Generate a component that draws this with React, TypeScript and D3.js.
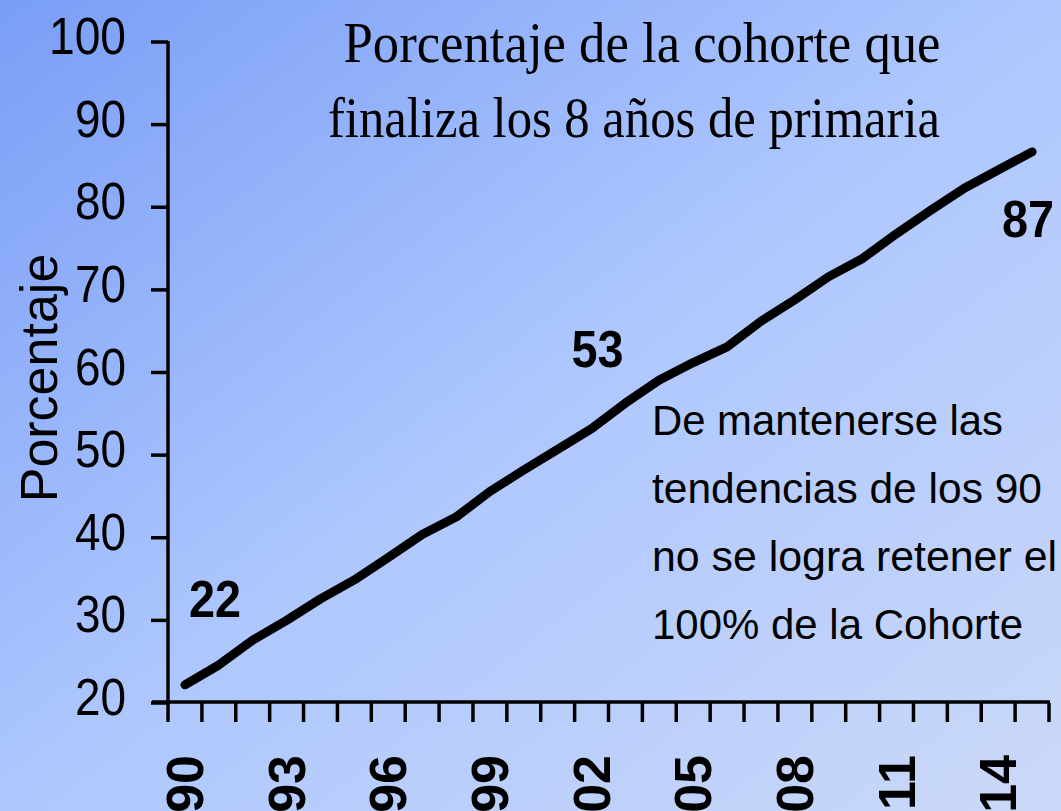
import React from "react";
import * as d3 from "d3";

const years: number[] = [1990,1991,1992,1993,1994,1995,1996,1997,1998,1999,2000,2001,2002,2003,2004,2005,2006,2007,2008,2009,2010,2011,2012,2013,2014,2015];
const values: number[] = [22.2,24.6,27.6,30.0,32.6,34.9,37.6,40.4,42.5,45.6,48.2,50.7,53.2,56.3,59.1,61.2,63.1,66.2,68.8,71.6,73.8,76.8,79.6,82.3,84.5,86.7];
const yTicks: number[] = [20,30,40,50,60,70,80,90,100];
const xLabelYears: number[] = [1990,1993,1996,1999,2002,2005,2008,2011,2014];
const pointLabels: { year: number; text: string }[] = [
  { year: 1990, text: "22" },
  { year: 2002, text: "53" },
  { year: 2015, text: "87" },
];
const titleLines: string[] = ["Porcentaje de la cohorte que", "finaliza los 8 años de primaria"];
const noteLines: string[] = ["De mantenerse las", "tendencias de los 90", "no se logra retener el", "100% de la Cohorte"];
const yTitle = "Porcentaje";

const W = 1061, H = 811;
const X0 = 168, X1 = 1049, Y0 = 703, Y1 = 42;

export default function App() {
  const x = d3.scaleBand<number>().domain(years).range([X0, X1]).padding(0);
  const y = d3.scaleLinear().domain([20, 100]).range([Y0, Y1]);
  const cx = (yr: number) => (x(yr) as number) + x.bandwidth() / 2;
  const line = d3.line<number>().x((_, i) => cx(years[i])).y((d) => y(d)).curve(d3.curveLinear);
  const sans = "'Liberation Sans', Arial, sans-serif";
  const serif = "'Liberation Serif', 'Times New Roman', serif";
  const tickEdges = years.map((yr) => x(yr) as number).concat([X1]);

  const labelPos: Record<string, { dx: number; dy: number }> = {
    "22": { dx: 30, dy: -68 },
    "53": { dx: 6, dy: -62 },
    "87": { dx: -4, dy: 85 },
  };
  const noteLengths = [351, 390, 405, 371];

  return (
    <svg width={W} height={H} style={{ position: "absolute", left: 0, top: 0 }} xmlns="http://www.w3.org/2000/svg">
      <defs>
        <linearGradient id="bg" x1="0" y1="0" x2="1" y2="1">
          <stop offset="0" stopColor="#7a9ef6" />
          <stop offset="0.5" stopColor="#aec7fe" />
          <stop offset="1" stopColor="#cbd9f8" />
        </linearGradient>
      </defs>
      <rect x={0} y={0} width={W} height={H} fill="url(#bg)" />

      {/* title */}
      <text x={642} y={62} fontFamily={serif} fontSize={58} textAnchor="middle" textLength={597} lengthAdjust="spacingAndGlyphs" fill="#000">{titleLines[0]}</text>
      <text x={634} y={137} fontFamily={serif} fontSize={58} textAnchor="middle" textLength={612} lengthAdjust="spacingAndGlyphs" fill="#000">{titleLines[1]}</text>

      {/* y axis */}
      <line x1={X0} y1={Y1 - 1} x2={X0} y2={Y0} stroke="#000" strokeWidth={3.5} />
      {yTicks.map((t) => (
        <g key={t}>
          <line x1={151} x2={X0} y1={y(t)} y2={y(t)} stroke="#000" strokeWidth={3.5} />
          <text x={126} y={y(t) + 12} fontFamily={sans} fontSize={51} textAnchor="end" textLength={t === 100 ? 77 : 51} lengthAdjust="spacingAndGlyphs" fill="#000">{t}</text>
        </g>
      ))}
      <text transform={`translate(57,378) rotate(-90)`} fontFamily={sans} fontSize={52} textAnchor="middle" fill="#000">{yTitle}</text>

      {/* x axis */}
      <line x1={152} x2={X1 + 1} y1={Y0 - 1} y2={Y0 - 1} stroke="#000" strokeWidth={3.5} />
      {tickEdges.map((ex, i) => (
        <line key={i} x1={ex} x2={ex} y1={Y0} y2={722} stroke="#000" strokeWidth={3.5} />
      ))}
      {xLabelYears.map((yr) => (
        <text key={yr} transform={`translate(${cx(yr) + 18},755) rotate(-90)`} fontFamily={sans} fontWeight="bold" fontSize={52} textAnchor="end" fill="#000">{String(yr).slice(2)}</text>
      ))}

      {/* data line */}
      <path d={line(values) || ""} fill="none" stroke="#000" strokeWidth={9} strokeLinecap="round" strokeLinejoin="round" />

      {/* point labels */}
      {pointLabels.map((p) => {
        const i = years.indexOf(p.year);
        const pos = labelPos[p.text];
        return (
          <text key={p.text} x={cx(p.year) + pos.dx} y={y(values[i]) + pos.dy} fontFamily={sans} fontWeight="bold" fontSize={52} textAnchor="middle" textLength={52} lengthAdjust="spacingAndGlyphs" fill="#000">{p.text}</text>
        );
      })}

      {/* note */}
      {noteLines.map((l, i) => (
        <text key={i} x={652} y={435 + i * 68} fontFamily={sans} fontSize={42} textLength={noteLengths[i]} lengthAdjust="spacingAndGlyphs" fill="#000">{l}</text>
      ))}
    </svg>
  );
}
